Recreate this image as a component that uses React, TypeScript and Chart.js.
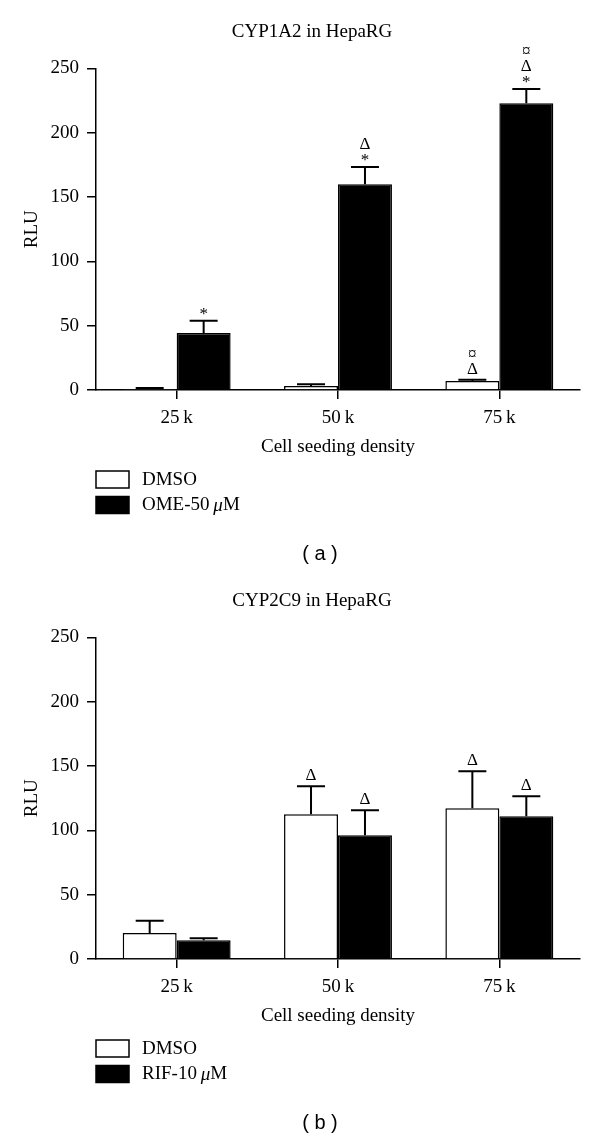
import React, { useEffect, useRef } from "react";
import { Chart, registerables } from "chart.js";

Chart.register(...registerables);

const SERIF = '"Liberation Serif", "DejaVu Serif", serif';
const SANS = '"Liberation Sans", Arial, sans-serif';

// ---------- data ----------
const categories = ["25\u2009k", "50\u2009k", "75\u2009k"];
const yTicks = [0, 50, 100, 150, 200, 250];
const xAxisTitle = "Cell seeding density";
const yAxisTitle = "RLU";

const cyp1a2Title = "CYP1A2 in HepaRG";
const cyp1a2Panel = "( a )";
const cyp1a2SeriesNames = ["DMSO", "OME-50\u2009μM"];
const cyp1a2Dmso = [0.8, 3.1, 7.0];
const cyp1a2DmsoErr = [0.7, 1.3, 0.9];
const cyp1a2DmsoMarks = [[], [], ["Δ", "¤"]];
const cyp1a2Ome = [44.3, 160, 223];
const cyp1a2OmeErr = [9.6, 13.5, 11];
const cyp1a2OmeMarks = [["*"], ["*", "Δ"], ["*", "Δ", "¤"]];

const cyp2c9Title = "CYP2C9 in HepaRG";
const cyp2c9Panel = "( b )";
const cyp2c9SeriesNames = ["DMSO", "RIF-10\u2009μM"];
const cyp2c9Dmso = [20.2, 112.6, 117.2];
const cyp2c9DmsoErr = [9.6, 21.7, 28.8];
const cyp2c9DmsoMarks = [[], ["Δ"], ["Δ"]];
const cyp2c9Rif = [14.6, 96.3, 111];
const cyp2c9RifErr = [1.6, 19.4, 15.6];
const cyp2c9RifMarks = [[], ["Δ"], ["Δ"]];

// ---------- plugins ----------
const errorPlugin = {
  id: "errorBars",
  afterDatasetsDraw(chart: any) {
    const ctx = chart.ctx;
    const ys = chart.scales.y;
    chart.data.datasets.forEach((ds: any, di: number) => {
      const meta = chart.getDatasetMeta(di);
      meta.data.forEach((bar: any, i: number) => {
        const v = ds.data[i];
        const e = ds.errors[i];
        const top = ys.getPixelForValue(v);
        const capY = ys.getPixelForValue(v + e);
        ctx.save();
        ctx.strokeStyle = "#000";
        ctx.lineWidth = 2;
        ctx.beginPath();
        ctx.moveTo(bar.x, top);
        ctx.lineTo(bar.x, capY);
        ctx.moveTo(bar.x - 14, capY);
        ctx.lineTo(bar.x + 14, capY);
        ctx.stroke();
        ctx.fillStyle = "#000";
        ctx.font = `17px ${SERIF}`;
        ctx.textAlign = "center";
        ctx.textBaseline = "alphabetic";
        let bottom = capY - 6;
        for (const s of ds.marks[i]) {
          const m = ctx.measureText(s);
          const asc = m.actualBoundingBoxAscent;
          const desc = m.actualBoundingBoxDescent;
          ctx.fillText(s, bar.x, bottom - desc);
          bottom = bottom - desc - asc - 5;
        }
        ctx.restore();
      });
    });
  },
};

function drawLabel(ctx: CanvasRenderingContext2D, text: string, x: number, y: number) {
  const parts = text.split("μ");
  let cx = x;
  ctx.textAlign = "left";
  ctx.textBaseline = "middle";
  parts.forEach((p, idx) => {
    ctx.font = `19px ${SERIF}`;
    ctx.fillText(p, cx, y);
    cx += ctx.measureText(p).width;
    if (idx < parts.length - 1) {
      ctx.font = `italic 19px ${SERIF}`;
      ctx.fillText("μ", cx, y);
      cx += ctx.measureText("μ").width;
    }
  });
}

const decorPlugin = {
  id: "decor",
  afterDraw(chart: any, _args: any, opts: any) {
    const ctx = chart.ctx;
    ctx.save();
    ctx.fillStyle = "#000";
    ctx.font = `19px ${SERIF}`;
    ctx.textAlign = "center";
    ctx.textBaseline = "middle";
    ctx.fillText(opts.title, 312, 32);
    chart.data.datasets.forEach((ds: any, i: number) => {
      const by = 471 + i * 25.5;
      ctx.fillStyle = ds.backgroundColor;
      ctx.fillRect(96, by, 33, 17);
      ctx.strokeStyle = "#000";
      ctx.lineWidth = 1.5;
      ctx.strokeRect(96, by, 33, 17);
      ctx.fillStyle = "#000";
      drawLabel(ctx, ds.label, 142, by + 9);
    });
    ctx.font = `20px ${SANS}`;
    ctx.textAlign = "center";
    ctx.textBaseline = "middle";
    ctx.fillText(opts.panel, 320, 554);
    ctx.restore();
  },
};

type PanelCfg = {
  title: string;
  panel: string;
  names: string[];
  a: number[];
  aErr: number[];
  aMarks: string[][];
  b: number[];
  bErr: number[];
  bMarks: string[][];
};

function Panel({ cfg, top }: { cfg: PanelCfg; top: number }) {
  const ref = useRef<HTMLCanvasElement>(null);
  useEffect(() => {
    if (!ref.current) return;
    const font = { family: SERIF, size: 19 };
    const chart = new Chart(ref.current, {
      type: "bar",
      data: {
        labels: categories,
        datasets: [
          {
            label: cfg.names[0],
            data: cfg.a,
            errors: cfg.aErr,
            marks: cfg.aMarks,
            backgroundColor: "#ffffff",
            borderColor: "#000000",
            borderWidth: 1.5,
            categoryPercentage: 0.669,
            barPercentage: 1.0,
          } as any,
          {
            label: cfg.names[1],
            data: cfg.b,
            errors: cfg.bErr,
            marks: cfg.bMarks,
            backgroundColor: "#000000",
            borderColor: "#000000",
            borderWidth: 1.5,
            categoryPercentage: 0.669,
            barPercentage: 1.0,
          } as any,
        ],
      },
      options: {
        responsive: false,
        animation: false,
        layout: { padding: { top: 68.5, left: 0, right: 20, bottom: 112 } },
        plugins: {
          legend: { display: false },
          title: { display: false },
          tooltip: { enabled: false },
          decor: { title: cfg.title, panel: cfg.panel },
        } as any,
        scales: {
          x: {
            type: "category",
            offset: true,
            grid: {
              display: true,
              drawOnChartArea: false,
              drawTicks: true,
              tickLength: 9,
              offset: false,
              color: "#000",
              lineWidth: 1.5,
            },
            border: { display: true, color: "#000", width: 1.5 },
            ticks: { font, color: "#000", padding: 8, maxRotation: 0, autoSkip: false },
            title: {
              display: true,
              text: xAxisTitle,
              font,
              color: "#000",
              padding: { top: 0, bottom: 2 },
            },
            afterFit: (s: any) => {
              s.height = 70;
            },
          },
          y: {
            min: 0,
            max: 250,
            grid: {
              display: true,
              drawOnChartArea: false,
              drawTicks: true,
              tickLength: 9,
              color: "#000",
              lineWidth: 1.5,
            },
            border: { display: true, color: "#000", width: 1.5 },
            ticks: { font, color: "#000", padding: 8 },
            afterBuildTicks: (s: any) => {
              s.ticks = yTicks.map((v) => ({ value: v }));
            },
            title: {
              display: true,
              text: yAxisTitle,
              font,
              color: "#000",
              padding: { top: 20.6, bottom: 0 },
            },
            afterFit: (s: any) => {
              s.width = 96;
            },
          },
        },
      } as any,
      plugins: [errorPlugin, decorPlugin],
    });
    return () => chart.destroy();
  }, [cfg]);
  return (
    <canvas
      ref={ref}
      width={600}
      height={572}
      style={{ position: "absolute", left: 0, top, width: 600, height: 572 }}
    />
  );
}

const panelA: PanelCfg = {
  title: cyp1a2Title,
  panel: cyp1a2Panel,
  names: cyp1a2SeriesNames,
  a: cyp1a2Dmso,
  aErr: cyp1a2DmsoErr,
  aMarks: cyp1a2DmsoMarks,
  b: cyp1a2Ome,
  bErr: cyp1a2OmeErr,
  bMarks: cyp1a2OmeMarks,
};

const panelB: PanelCfg = {
  title: cyp2c9Title,
  panel: cyp2c9Panel,
  names: cyp2c9SeriesNames,
  a: cyp2c9Dmso,
  aErr: cyp2c9DmsoErr,
  aMarks: cyp2c9DmsoMarks,
  b: cyp2c9Rif,
  bErr: cyp2c9RifErr,
  bMarks: cyp2c9RifMarks,
};

export default function App() {
  return (
    <div
      style={{
        position: "absolute",
        left: 0,
        top: 0,
        width: 600,
        height: 1141,
        background: "#fff",
        overflow: "hidden",
      }}
    >
      <Panel cfg={panelA} top={0} />
      <Panel cfg={panelB} top={569} />
    </div>
  );
}
